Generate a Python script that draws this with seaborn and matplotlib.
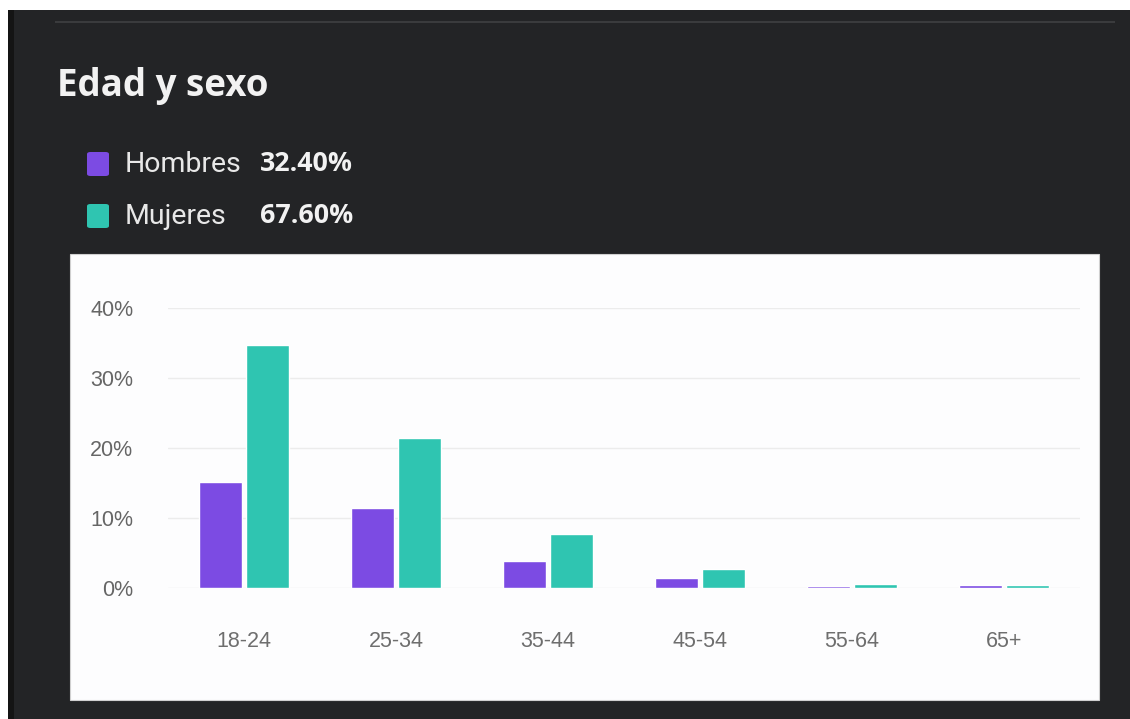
import matplotlib.pyplot as plt
import matplotlib.patches as mpatches
import pandas as pd
import seaborn as sns

age_groups = ['18-24', '25-34', '35-44', '45-54', '55-64', '65+']
hombres = [15.1, 11.4, 3.8, 1.4, 0.3, 0.4]
mujeres = [34.7, 21.5, 7.7, 2.7, 0.6, 0.4]
series_names = ['Hombres', 'Mujeres']
series_totals = ['32.40%', '67.60%']
y_ticks = [0, 10, 20, 30, 40]

purple = '#7c4be3'
teal = '#2fc5b1'
dark_bg = '#232426'

df = pd.DataFrame({
    'edad': age_groups * 2,
    'pct': hombres + mujeres,
    'sexo': ['Hombres'] * len(age_groups) + ['Mujeres'] * len(age_groups),
})

sns.set_theme(style='white')
plt.rcParams['font.family'] = ['Liberation Sans', 'DejaVu Sans']

W, H = 1130, 719
fig = plt.figure(figsize=(W / 100, H / 100), dpi=100)
fig.patch.set_facecolor(dark_bg)


def px_rect(x0, y0, x1, y1):
    # pixel box (top-left origin) -> figure fraction
    return [x0 / W, 1 - y1 / H, (x1 - x0) / W, (y1 - y0) / H]


def add_box(box, col, edge='none', lw=0):
    r = px_rect(*box)
    fig.patches.append(mpatches.Rectangle((r[0], r[1]), r[2], r[3], transform=fig.transFigure,
                                          facecolor=col, edgecolor=edge, lw=lw, zorder=-5))


# page frame bits: white top strip, black left strip, thin divider line
add_box((0, 0, W, 10), 'white')
add_box((0, 0, 8, H), 'white')
add_box((8, 10, 14, H), '#141414')
add_box((55, 21, 1115, 23), '#3a3b3d')
# white chart card
add_box((70, 254, 1099, 700), '#fdfdfe', edge='#d0d0d0', lw=0.8)

fig.text(57 / W, 1 - 86 / H, 'Edad y sexo', color='#f2f2f2', fontsize=26.5, fontweight='bold',
         family=['Open Sans', 'DejaVu Sans'], va='center', ha='left')

for i, (name, total, col) in enumerate(zip(series_names, series_totals, [purple, teal])):
    yc = 164 + i * 52
    box = px_rect(87, yc - 12, 109, yc + 12)
    fig.patches.append(mpatches.FancyBboxPatch((box[0], box[1]), box[2], box[3],
                                               boxstyle='round,pad=0,rounding_size=0.003',
                                               transform=fig.transFigure, facecolor=col,
                                               edgecolor='none'))
    fig.text(125 / W, 1 - yc / H, name, color='#e8e8e8', fontsize=20.5,
             family=['Roboto', 'DejaVu Sans'], va='center', ha='left')
    fig.text(260 / W, 1 - yc / H, total, color='#f2f2f2', fontsize=19.3, fontweight='bold',
             family=['Open Sans', 'DejaVu Sans'], va='center', ha='left')

ax = fig.add_axes(px_rect(168, 308, 1080, 588))
ax.set_facecolor('none')
sns.barplot(data=df, x='edad', y='pct', hue='sexo', palette=[purple, teal],
            width=0.61, gap=0.08, ax=ax, legend=False, saturation=1)

ax.set_xlim(-0.5, len(age_groups) - 0.5)
ax.set_ylim(0, 40)
ax.set_yticks(y_ticks)
ax.set_yticklabels([f'{v}%' for v in y_ticks])
ax.yaxis.grid(True, color='#ececec', lw=1)
ax.set_axisbelow(True)
for s in ax.spines.values():
    s.set_visible(False)
ax.tick_params(axis='y', length=0, pad=25, labelsize=15.5, labelcolor='#666666')
ax.tick_params(axis='x', length=0, pad=31, labelsize=15.5, labelcolor='#6e6e6e')
ax.set_xlabel('')
ax.set_ylabel('')

fig.savefig('out.png', dpi=100, facecolor=fig.get_facecolor())
